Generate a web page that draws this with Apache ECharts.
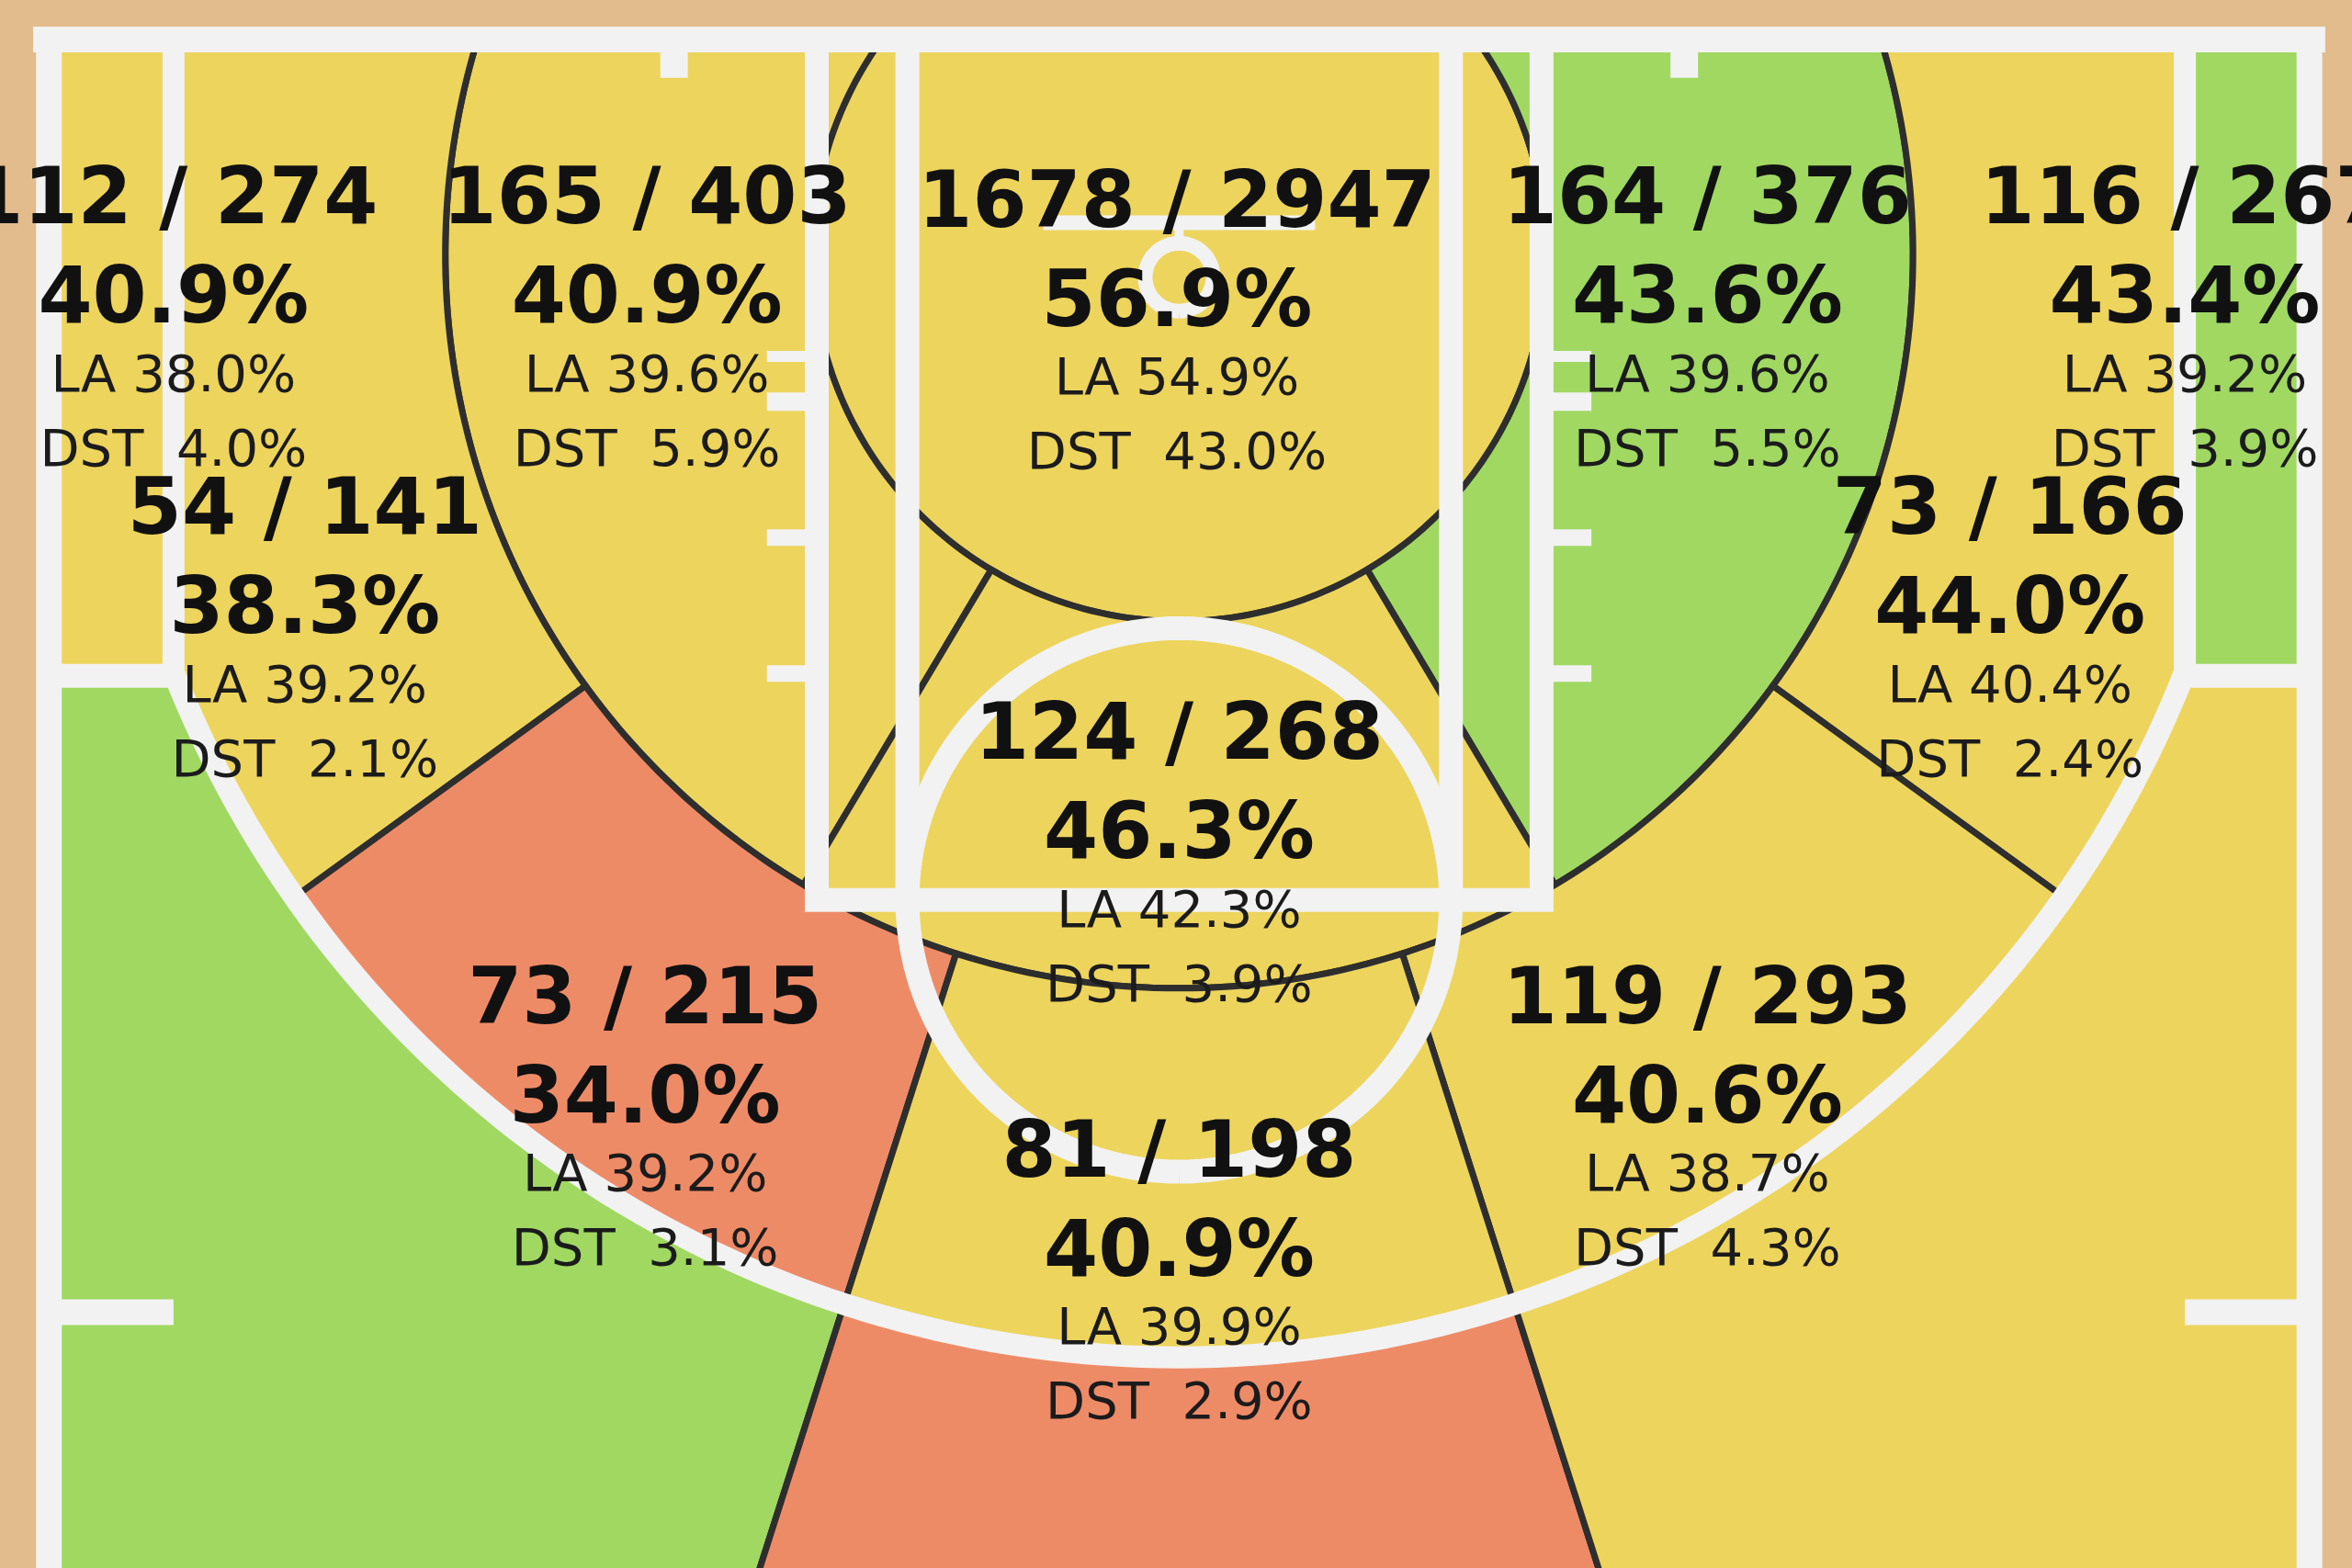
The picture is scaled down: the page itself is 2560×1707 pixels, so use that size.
<!DOCTYPE html>
<html>
<head>
<meta charset="utf-8">
<script src="https://cdn.jsdelivr.net/npm/echarts@6/dist/echarts.min.js"></script>
<style>
html,body{margin:0;padding:0;background:#e2bc8c;}
#chart{width:2560px;height:1707px;}
</style>
</head>
<body>
<div id="chart"></div>
<script>
// ---------------- DATA ----------------
const zones = [
  'Left Corner 3', 'Left 8-16 ft', 'Restricted Area', 'Right 8-16 ft', 'Right Corner 3',
  'Left Baseline 16-24 ft', 'Right Baseline 16-24 ft', 'Center 8-16 ft',
  'Left Center 16-24 ft', 'Right Center 16-24 ft', 'Center 16-24 ft',
  'Left Wing 3', 'Center 3', 'Right Wing 3'
];
const made      = [112, 165, 1678, 164, 116, 54, 73, 124, 73, 119, 81, null, null, null];
const attempts  = [274, 403, 2947, 376, 267, 141, 166, 268, 215, 293, 198, null, null, null];
const fgPct     = [40.9, 40.9, 56.9, 43.6, 43.4, 38.3, 44.0, 46.3, 34.0, 40.6, 40.9, null, null, null];
const leaguePct = [38.0, 39.6, 54.9, 39.6, 39.2, 39.2, 40.4, 42.3, 39.2, 38.7, 39.9, null, null, null];
const distPct   = [4.0, 5.9, 43.0, 5.5, 3.9, 2.1, 2.4, 3.9, 3.1, 4.3, 2.9, null, null, null];
const rating    = ['avg', 'avg', 'avg', 'above', 'above', 'avg', 'avg', 'avg', 'below', 'avg', 'avg', 'above', 'below', 'avg'];

// ---------------- LAYOUT / STYLE ----------------
const COLORS = { above: '#a0d862', avg: '#edd45c', below: '#ee8b67' };
const WOOD = '#e2bc8c';
const LINE_WHITE = '#f2f2f2';
const ZONE_LINE = '#2e2e2e';
// label anchor (first text line centre), in court feet
const LABEL_AT = {
  'Left Corner 3': [-22.2, 3.43], 'Left 8-16 ft': [-11.75, 3.43], 'Restricted Area': [-0.05, 3.5],
  'Right 8-16 ft': [11.66, 3.43], 'Right Corner 3': [22.2, 3.43],
  'Left Baseline 16-24 ft': [-19.3, 10.29], 'Right Baseline 16-24 ft': [18.34, 10.29],
  'Center 8-16 ft': [0, 15.26], 'Left Center 16-24 ft': [-11.79, 21.09],
  'Right Center 16-24 ft': [11.66, 21.09], 'Center 16-24 ft': [0, 24.47]
};
const LINE_OFFSETS = [9, 117, 199, 280];

// axis extents (feet) so the court fills the canvas like the reference
const XMIN = -26.03, XMAX = 25.89, YMIN = -0.87, YMAX = 33.75;

// ---------------- COURT GEOMETRY (feet) ----------------
const deg = Math.PI / 180;
const C = [0, 4.75], H = [0, 5.25];
const R1 = 8.1, R2 = 16.2, R3 = 23.85, CX = 22.2;
const CY = H[1] + Math.sqrt(R3 * R3 - CX * CX);
const A_MID = 30.8, A_WIDE = 54, A_CTR = 17.7;
const YB = 36;

function pt(P, r, a) { return [P[0] + r * Math.sin(a * deg), P[1] + r * Math.cos(a * deg)]; }
function arc(P, r, a1, a2, n) {
  n = n || Math.max(8, Math.ceil(Math.abs(a2 - a1) / 1.0));
  const out = [];
  for (let k = 0; k <= n; k++) out.push(pt(P, r, a1 + (a2 - a1) * k / n));
  return out;
}
function baseAng(r) { return Math.acos(-C[1] / r) / deg; }
function rayHit3(a) {
  const d = [Math.sin(a * deg), Math.cos(a * deg)];
  const w = [C[0] - H[0], C[1] - H[1]];
  const b = d[0] * w[0] + d[1] * w[1];
  const c = w[0] * w[0] + w[1] * w[1] - R3 * R3;
  const t = -b + Math.sqrt(b * b - c);
  return [C[0] + t * d[0], C[1] + t * d[1]];
}
function angH(p) { return Math.atan2(p[0] - H[0], p[1] - H[1]) / deg; }
function rayEnd(a) { const t = (YB - C[1]) / Math.cos(a * deg); return [C[0] + t * Math.sin(a * deg), YB]; }
const mirror = pts => pts.map(p => [-p[0], p[1]]).reverse();

const B1 = baseAng(R1), B2 = baseAng(R2);
const PHC = angH([-CX, CY]);
const phW = angH(rayHit3(-A_WIDE)), phC = angH(rayHit3(-A_CTR));

const SHAPES = {};
SHAPES['Left Corner 3'] = [[-25, 0], [-CX, 0], [-CX, CY], [-25, CY]];
SHAPES['Left Baseline 16-24 ft'] = [...arc(C, R2, -B2, -A_WIDE), ...arc(H, R3, phW, PHC), [-CX, 0]];
SHAPES['Left 8-16 ft'] = [...arc(C, R2, -B2, -A_MID), ...arc(C, R1, -A_MID, -B1)];
SHAPES['Restricted Area'] = arc(C, R1, -B1, B1);
SHAPES['Center 8-16 ft'] = [...arc(C, R2, -A_MID, A_MID), ...arc(C, R1, A_MID, -A_MID)];
SHAPES['Left Center 16-24 ft'] = [...arc(C, R2, -A_WIDE, -A_CTR), ...arc(H, R3, phC, phW)];
SHAPES['Center 16-24 ft'] = [...arc(C, R2, -A_CTR, A_CTR), ...arc(H, R3, -phC, phC)];
SHAPES['Left Wing 3'] = [[-25, CY], [-CX, CY], ...arc(H, R3, PHC, phC), rayEnd(-A_CTR), [-25, YB]];
SHAPES['Center 3'] = [...arc(H, R3, phC, -phC), rayEnd(A_CTR), rayEnd(-A_CTR)];
SHAPES['Right Corner 3'] = mirror(SHAPES['Left Corner 3']);
SHAPES['Right Baseline 16-24 ft'] = mirror(SHAPES['Left Baseline 16-24 ft']);
SHAPES['Right 8-16 ft'] = mirror(SHAPES['Left 8-16 ft']);
SHAPES['Right Center 16-24 ft'] = mirror(SHAPES['Left Center 16-24 ft']);
SHAPES['Right Wing 3'] = mirror(SHAPES['Left Wing 3']);

// white court lines: [points, width]
const COURT_LINES = [];
COURT_LINES.push([[[-25.3, 0], [25.3, 0]], 28]);
COURT_LINES.push([[[-24.95, -0.28], [-24.95, YB]], 28]);
COURT_LINES.push([[[24.95, -0.28], [24.95, YB]], 28]);
COURT_LINES.push([[[-CX, 0], ...arc(H, R3, PHC, -PHC), [CX, 0]], 24]);
COURT_LINES.push([[[-24.95, 14.05], [-CX, 14.05]], 26]);
COURT_LINES.push([[[24.95, 14.05], [CX, 14.05]], 26]);
COURT_LINES.push([[[-24.95, 28.1], [-CX, 28.1]], 28]);
COURT_LINES.push([[[24.95, 28.1], [CX, 28.1]], 28]);
COURT_LINES.push([[[-8, 0], [-8, 19], [8, 19], [8, 0]], 26]);
COURT_LINES.push([[[-6, 0], [-6, 19]], 26]);
COURT_LINES.push([[[6, 0], [6, 19]], 26]);
COURT_LINES.push([arc([0, 19], 6, 0, 360, 180), 26]);
[[7, 12], [8, 20], [11, 18], [14, 18]].forEach(([y, w]) => {
  COURT_LINES.push([[[-9.1, y], [-8, y]], w]);
  COURT_LINES.push([[[9.1, y], [8, y]], w]);
});
COURT_LINES.push([[[-11.15, 0], [-11.15, 0.85]], 30]);
COURT_LINES.push([[[11.15, 0], [11.15, 0.85]], 30]);
COURT_LINES.push([[[-3, 4.05], [3, 4.05]], 16]);
COURT_LINES.push([[[0, 4.05], [0, 4.5]], 10]);
COURT_LINES.push([arc(H, 0.75, 0, 360, 60), 16]);

// ---------------- CHART ----------------
const chart = echarts.init(document.getElementById('chart'), null, { renderer: 'canvas' });
const toPx = (api, pts) => pts.map(p => api.coord(p));

const labelIdx = zones.map((z, i) => i).filter(i => made[i] != null);

chart.setOption({
  backgroundColor: WOOD,
  animation: false,
  grid: { left: 0, right: 0, top: 0, bottom: 0, containLabel: false },
  xAxis: { type: 'value', min: XMIN, max: XMAX, show: false },
  yAxis: { type: 'value', min: YMIN, max: YMAX, inverse: true, show: false },
  series: [
    {
      type: 'custom', name: 'zones', coordinateSystem: 'cartesian2d', silent: true, z: 1,
      data: zones.map(() => [0, 0]),
      renderItem: (params, api) => {
        const i = params.dataIndex;
        return {
          type: 'polygon',
          shape: { points: toPx(api, SHAPES[zones[i]]) },
          style: { fill: COLORS[rating[i]], stroke: ZONE_LINE, lineWidth: 7, lineJoin: 'round' }
        };
      }
    },
    {
      type: 'custom', name: 'court', coordinateSystem: 'cartesian2d', silent: true, z: 2,
      data: [[0, 0]],
      renderItem: (params, api) => ({
        type: 'group',
        children: COURT_LINES.map(([pts, w]) => ({
          type: 'polyline',
          shape: { points: toPx(api, pts) },
          style: { stroke: LINE_WHITE, lineWidth: w, fill: null, lineCap: 'butt', lineJoin: 'miter' }
        }))
      })
    },
    {
      type: 'custom', name: 'labels', coordinateSystem: 'cartesian2d', silent: true, z: 3,
      data: labelIdx.map(() => [0, 0]),
      renderItem: (params, api) => {
        const i = labelIdx[params.dataIndex];
        const p = api.coord(LABEL_AT[zones[i]]);
        const lines = [
          [made[i] + ' / ' + attempts[i], 'bold 85px "DejaVu Sans"', '#111111'],
          [fgPct[i].toFixed(1) + '%', 'bold 85px "DejaVu Sans"', '#111111'],
          ['LA ' + leaguePct[i].toFixed(1) + '%', '56px "DejaVu Sans"', '#1b1b1b'],
          ['DST  ' + distPct[i].toFixed(1) + '%', '56px "DejaVu Sans"', '#1b1b1b']
        ];
        return {
          type: 'group',
          children: lines.map(([t, f, c], k) => ({
            type: 'text',
            x: p[0], y: p[1] + LINE_OFFSETS[k],
            style: { text: t, font: f, fill: c, align: 'center', verticalAlign: 'middle',
                     textAlign: 'center', textVerticalAlign: 'middle' }
          }))
        };
      }
    }
  ]
});
</script>
</body>
</html>
